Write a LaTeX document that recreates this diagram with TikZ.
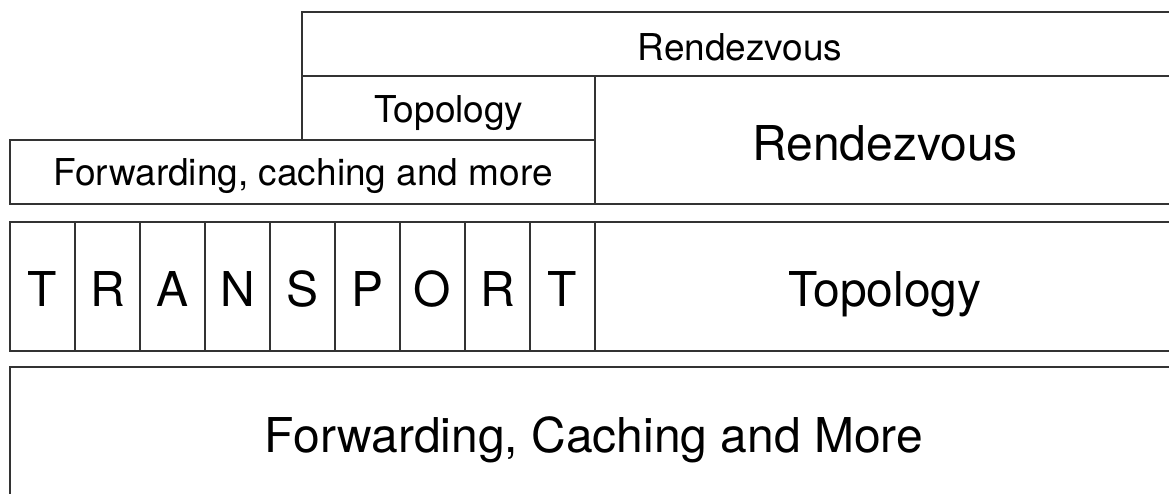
\documentclass[tikz,border=0pt]{standalone}
\usepackage{fontspec}
\setmainfont{TeX Gyre Heros}

\begin{document}
\begin{tikzpicture}[x=1pt, y=-1pt,
  layer/.style={draw=black!80, line width=1.7pt},
  big/.style={anchor=base, inner sep=0pt, font=\fontsize{48}{58}\selectfont},
  small/.style={anchor=base, inner sep=0pt, font=\fontsize{37}{44}\selectfont}]
\useasboundingbox (0,0) rectangle (1169,493);
\clip (0,0) rectangle (1169,493);
\fill[white] (0,0) rectangle (1169,493);

% upper stack
\draw[layer] (302,12) rectangle (1185,76);
\draw[layer] (302,76) rectangle (595,140);
\draw[layer] (10,140) rectangle (595,204);
\draw[layer] (595,76) rectangle (1185,204);

\node[small] (rdv-top) at (740,60) {Rendezvous};
\node[small] (topo-small) at (449,122) {Topology};
\node[small] (fwd-small) at (303,185) {Forwarding, caching and more};
\node[big] (rdv-big) at (885,160) {Rendezvous};

% transport cells
\foreach \l [count=\i from 0] in {T,R,A,N,S,P,O,R,T} {
  \draw[layer] (10+65*\i,222) rectangle (75+65*\i,351);
  \node[big] (t-\i) at (42.5+65*\i,306) {\l};
}
\draw[layer] (595,222) rectangle (1185,351);
\node[big] (topo-big) at (885,306) {Topology};

% bottom layer
\draw[layer] (10,367) rectangle (1185,520);
\node[big] (fwd-big) at (594,452) {Forwarding, Caching and More};
\end{tikzpicture}
\end{document}
